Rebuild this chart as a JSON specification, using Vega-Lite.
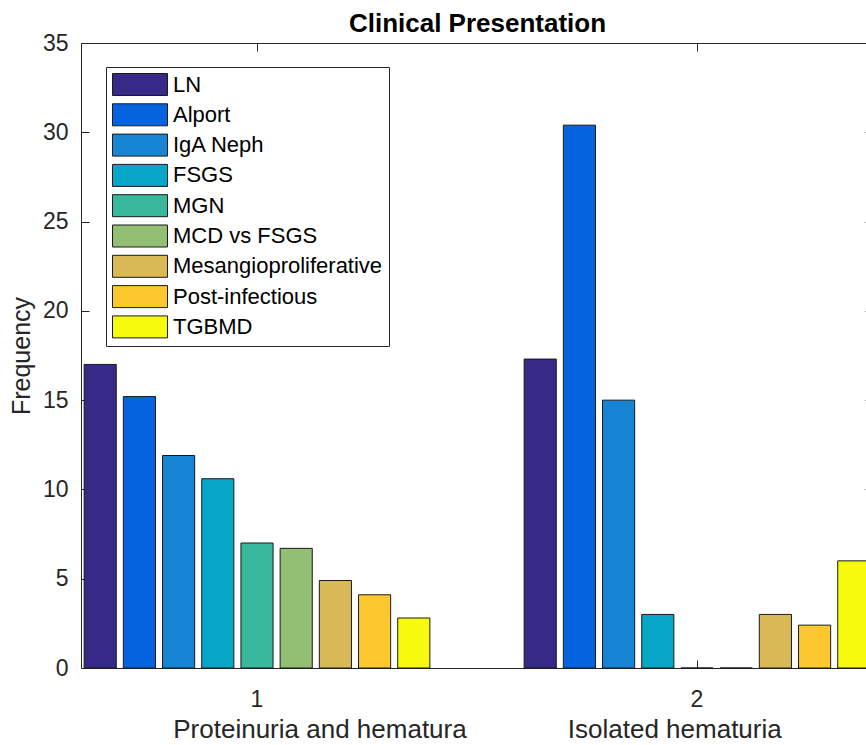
{
  "$schema": "https://vega.github.io/schema/vega-lite/v6.json",
  "autosize": {"type": "none"},
  "width": 792,
  "height": 625,
  "padding": {"left": 81, "top": 43, "right": -7, "bottom": 77},
  "background": "white",
  "config": {
    "font": "Liberation Sans",
    "view": {"stroke": "#262626", "strokeWidth": 1},
    "axis": {"domain": false, "grid": false, "tickColor": "#262626", "tickSize": -8, "labelColor": "#262626", "titleColor": "#262626", "labelFont": "Liberation Sans", "titleFont": "Liberation Sans", "titleFontWeight": "normal"}
  },
  "data": {
    "values": [
      {"group": "1", "disease": "LN", "value": 17.0},
      {"group": "1", "disease": "Alport", "value": 15.2},
      {"group": "1", "disease": "IgA Neph", "value": 11.9},
      {"group": "1", "disease": "FSGS", "value": 10.6},
      {"group": "1", "disease": "MGN", "value": 7.0},
      {"group": "1", "disease": "MCD vs FSGS", "value": 6.7},
      {"group": "1", "disease": "Mesangioproliferative", "value": 4.9},
      {"group": "1", "disease": "Post-infectious", "value": 4.1},
      {"group": "1", "disease": "TGBMD", "value": 2.8},
      {"group": "2", "disease": "LN", "value": 17.3},
      {"group": "2", "disease": "Alport", "value": 30.4},
      {"group": "2", "disease": "IgA Neph", "value": 15.0},
      {"group": "2", "disease": "FSGS", "value": 3.0},
      {"group": "2", "disease": "MGN", "value": 0},
      {"group": "2", "disease": "MCD vs FSGS", "value": 0},
      {"group": "2", "disease": "Mesangioproliferative", "value": 3.0},
      {"group": "2", "disease": "Post-infectious", "value": 2.4},
      {"group": "2", "disease": "TGBMD", "value": 6.0}
    ]
  },
  "layer": [
    {
      "mark": {"type": "bar", "stroke": "#1a1a1a", "strokeWidth": 1},
      "encoding": {
        "x": {
          "field": "group", "type": "ordinal",
          "scale": {"paddingInner": 0.2, "paddingOuter": 0},
          "axis": {
            "orient": "bottom", "labelAngle": 0, "labelFontSize": 23, "labelPadding": 28,
            "title": "Proteinuria and hematura\u00a0\u00a0\u00a0\u00a0\u00a0\u00a0\u00a0\u00a0\u00a0\u00a0\u00a0\u00a0\u00a0\u00a0Isolated hematuria",
            "titleFontSize": 26, "titleBaseline": "alphabetic", "titlePadding": 26, "titleLimit": 900
          }
        },
        "xOffset": {
          "field": "disease", "type": "nominal",
          "sort": ["LN", "Alport", "IgA Neph", "FSGS", "MGN", "MCD vs FSGS", "Mesangioproliferative", "Post-infectious", "TGBMD"],
          "scale": {"paddingInner": 0.18, "paddingOuter": 0.08}
        },
        "y": {
          "field": "value", "type": "quantitative",
          "scale": {"domain": [0, 35], "nice": false},
          "axis": {"title": "Frequency", "titleFontSize": 25, "titlePadding": 8, "labelFontSize": 23, "labelPadding": 21, "values": [0, 5, 10, 15, 20, 25, 30, 35]}
        },
        "color": {
          "field": "disease", "type": "nominal",
          "scale": {
            "domain": ["LN", "Alport", "IgA Neph", "FSGS", "MGN", "MCD vs FSGS", "Mesangioproliferative", "Post-infectious", "TGBMD"],
            "range": ["#352a87", "#0563e0", "#1685d4", "#06a6c6", "#38b89d", "#92bf73", "#d8b955", "#fcc82e", "#f8fa0d"]
          },
          "legend": {
            "orient": "none", "legendX": 25, "legendY": 24, "title": null,
            "strokeColor": "#262626", "fillColor": "#ffffff", "padding": 6,
            "symbolType": "M-1,-1H4V1H-1Z", "symbolSize": 484, "symbolStrokeColor": "#1a1a1a", "symbolStrokeWidth": 1, "symbolOpacity": 1,
            "labelFontSize": 22, "labelFont": "Liberation Sans", "labelColor": "#000000", "labelOffset": 38, "rowPadding": 3.3, "labelLimit": 400
          }
        }
      }
    },
    {
      "mark": {"type": "bar", "opacity": 0},
      "encoding": {
        "x": {
          "field": "group", "type": "ordinal",
          "scale": {"paddingInner": 0.2, "paddingOuter": 0},
          "axis": {"orient": "top", "title": "Clinical Presentation", "titleFontSize": 26, "titleFontWeight": "bold", "titleColor": "#000000", "titleBaseline": "alphabetic", "titlePadding": 11, "labels": false}
        },
        "y": {
          "field": "value", "type": "quantitative",
          "scale": {"domain": [0, 35], "nice": false},
          "axis": {"orient": "right", "title": null, "labels": false, "values": [0, 5, 10, 15, 20, 25, 30, 35]}
        }
      }
    }
  ],
  "resolve": {"scale": {"x": "independent", "y": "independent"}}
}
